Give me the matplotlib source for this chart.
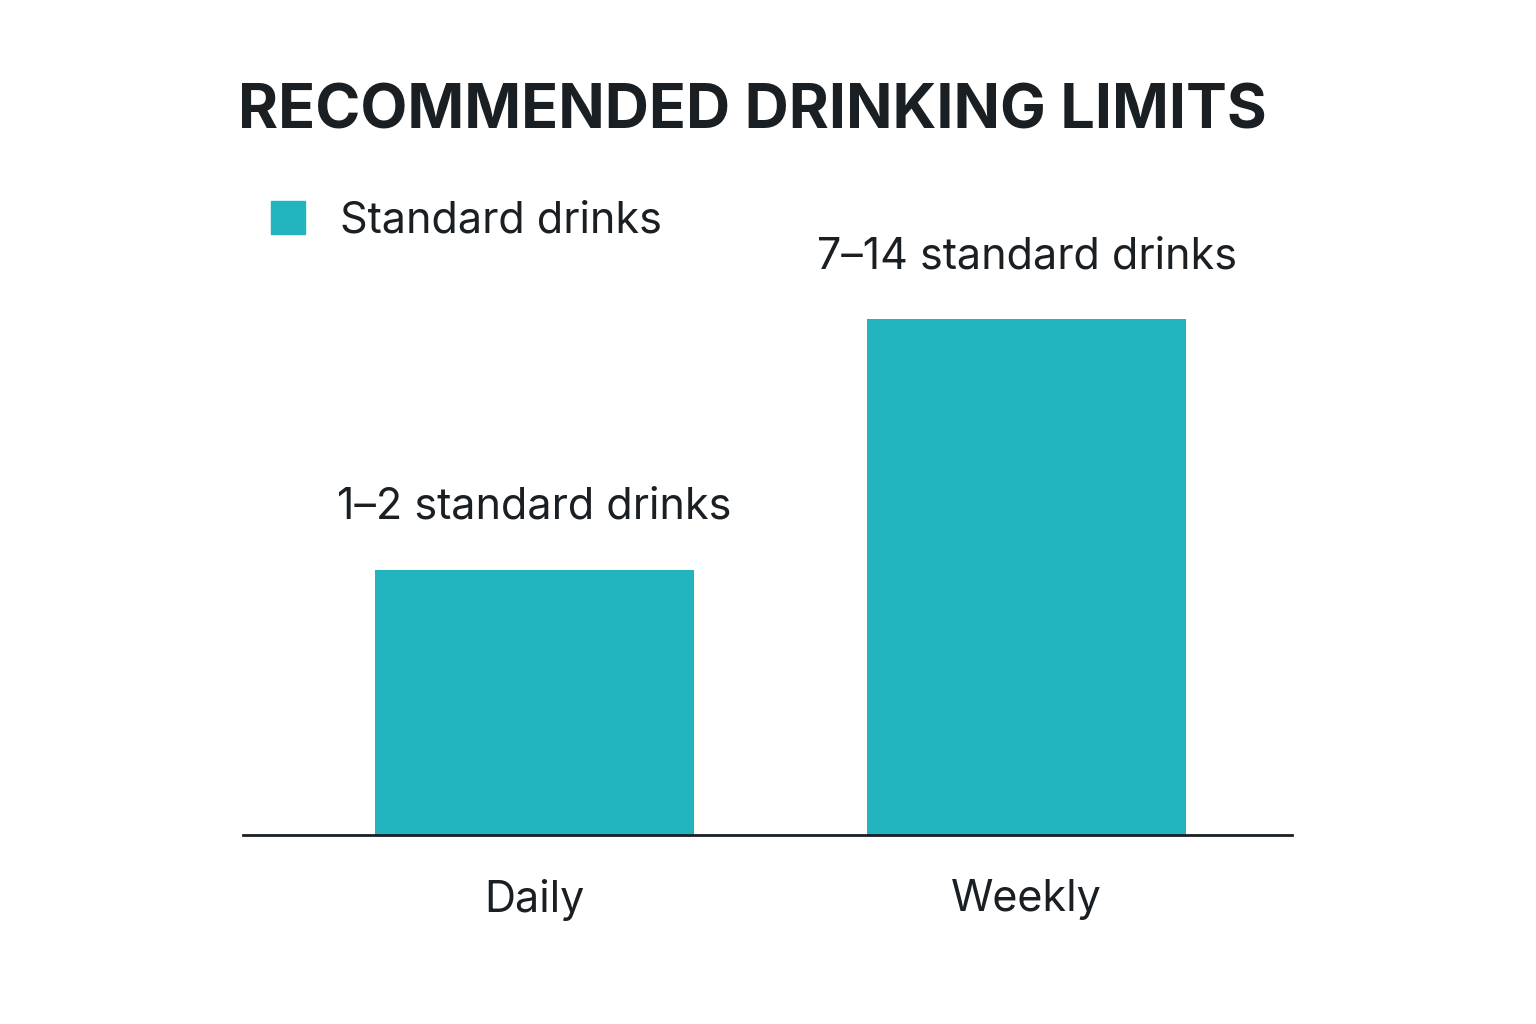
import matplotlib
matplotlib.use("Agg")
import matplotlib.pyplot as plt
from matplotlib.patches import Patch

categories = ["Daily", "Weekly"]
values = [2.0, 3.89]  # relative bar heights
value_labels = ["1–2 standard drinks", "7–14 standard drinks"]
series_name = "Standard drinks"

color = "#22b5c0"
text_color = "#1a1f24"
plt.rcParams["font.family"] = "Inter"

fig = plt.figure(figsize=(15.36, 10.24), dpi=100)
ax = fig.add_axes([0.158, 0.1846, 0.683, 0.62])

x = list(range(len(categories)))
ax.bar(x, values, width=0.65, color=color, zorder=2)
ax.set_xlim(-0.593, 1.539)
ax.set_ylim(0, 4.79)

for xi, v, lab in zip(x, values, value_labels):
    ax.annotate(lab, (xi, v), textcoords="offset points", xytext=(0, 45),
                ha="center", va="center", fontsize=31, color=text_color)

ax.set_xticks(x)
ax.set_xticklabels(categories, fontsize=31, color=text_color)
ax.tick_params(axis="x", length=0, pad=32)
ax.set_yticks([])
for s in ["left", "right", "top"]:
    ax.spines[s].set_visible(False)
ax.spines["bottom"].set_linewidth(2)
ax.spines["bottom"].set_color(text_color)

ax.legend(handles=[Patch(color=color, label=series_name)], loc="upper left",
          bbox_to_anchor=(-0.01, 1.06), frameon=False, fontsize=31,
          handlelength=0.8, handleheight=0.8, labelcolor=text_color)

fig.text(0.49, 0.89, "RECOMMENDED DRINKING LIMITS", ha="center", va="center",
         fontsize=44, fontweight="bold", color=text_color)

fig.savefig("out.png", dpi=100, facecolor="white")
